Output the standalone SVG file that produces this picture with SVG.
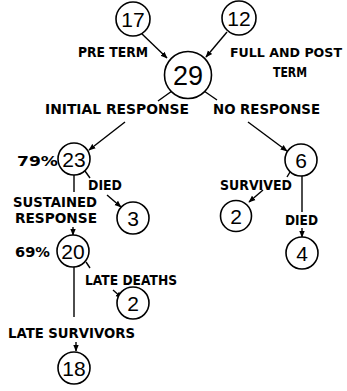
<svg xmlns="http://www.w3.org/2000/svg" width="347" height="391" viewBox="0 0 347 391">
<defs>
<marker id="ah" viewBox="0 0 10 10" refX="9" refY="5" markerWidth="7" markerHeight="7" orient="auto" markerUnits="userSpaceOnUse">
<path d="M0,1 L10,5 L0,9 Z" fill="#000"/>
</marker>
<style>
.c{fill:#fff;stroke:#000;stroke-width:1.6}
.n{font-family:"Liberation Sans",Arial,sans-serif;font-size:21px;fill:#000;text-anchor:middle}
.big{font-size:27px}
.l{font-family:"DejaVu Sans",Verdana,sans-serif;font-weight:bold;font-size:14px;fill:#000}
.e{fill:none;stroke:#000;stroke-width:1.4}
.a{fill:none;stroke:#000;stroke-width:1.4;marker-end:url(#ah)}
</style>
</defs>
<rect width="347" height="391" fill="#fff"/>
<g id="connectors">
<line class="a" x1="141" y1="33" x2="167" y2="58"/>
<line class="a" x1="227" y1="32" x2="206" y2="57"/>
<line class="e" x1="172" y1="91" x2="158" y2="101"/>
<line class="e" x1="204" y1="91" x2="217" y2="100"/>
<line class="a" x1="125" y1="122" x2="89" y2="150"/>
<line class="a" x1="248" y1="122" x2="287" y2="151"/>
<line class="e" x1="85" y1="171" x2="90" y2="178"/>
<line class="a" x1="107" y1="195" x2="121" y2="207"/>
<line class="e" x1="74" y1="175" x2="74" y2="192"/>
<line class="a" x1="73" y1="227" x2="73" y2="235"/>
<line class="e" x1="86" y1="262" x2="90" y2="268"/>
<line class="a" x1="113" y1="290" x2="122" y2="298"/>
<line class="e" x1="74" y1="267" x2="74" y2="317"/>
<line class="a" x1="76" y1="342" x2="76" y2="351"/>
<line class="e" x1="290" y1="172" x2="287" y2="177"/>
<line class="a" x1="263" y1="190" x2="249" y2="202"/>
<line class="e" x1="302" y1="176" x2="302" y2="212"/>
<line class="a" x1="302" y1="228" x2="302" y2="237"/>
</g>
<g id="n17"><circle class="c" cx="133" cy="19" r="17"/><text class="n" x="133" y="27">17</text></g>
<g id="n12"><circle class="c" cx="239" cy="18" r="17"/><text class="n" x="239" y="26">12</text></g>
<g id="n29"><circle class="c" cx="188" cy="75" r="23.5"/><text class="n big" x="188" y="85">29</text></g>
<g id="n23"><circle class="c" cx="74" cy="159" r="16"/><text class="n" x="74" y="167">23</text></g>
<g id="n6"><circle class="c" cx="301" cy="160" r="16"/><text class="n" x="301" y="168">6</text></g>
<g id="n3"><circle class="c" cx="133" cy="218" r="16"/><text class="n" x="133" y="226">3</text></g>
<g id="n2a"><circle class="c" cx="236" cy="216" r="15.5"/><text class="n" x="236" y="224">2</text></g>
<g id="n20"><circle class="c" cx="73" cy="251" r="16"/><text class="n" x="73" y="259">20</text></g>
<g id="n4"><circle class="c" cx="302" cy="253" r="16"/><text class="n" x="302" y="261">4</text></g>
<g id="n2b"><circle class="c" cx="133" cy="303" r="16"/><text class="n" x="133" y="311">2</text></g>
<g id="n18"><circle class="c" cx="74" cy="368" r="16"/><text class="n" x="74" y="376">18</text></g>
<g id="labels">
<text class="l" x="78" y="57" textLength="70" lengthAdjust="spacingAndGlyphs">PRE TERM</text>
<text class="l" x="230" y="57" style="font-size:12.6px" textLength="112" lengthAdjust="spacingAndGlyphs">FULL AND POST</text>
<text class="l" x="273" y="77" textLength="34" lengthAdjust="spacingAndGlyphs">TERM</text>
<text class="l" x="45" y="114" textLength="144" lengthAdjust="spacingAndGlyphs">INITIAL RESPONSE</text>
<text class="l" x="213" y="114" textLength="107" lengthAdjust="spacingAndGlyphs">NO RESPONSE</text>
<text class="l" x="17" y="166" textLength="41" lengthAdjust="spacingAndGlyphs">79%</text>
<text class="l" x="88" y="190" textLength="34" lengthAdjust="spacingAndGlyphs">DIED</text>
<text class="l" x="13" y="207" textLength="84" lengthAdjust="spacingAndGlyphs">SUSTAINED</text>
<text class="l" x="15" y="223" textLength="82" lengthAdjust="spacingAndGlyphs">RESPONSE</text>
<text class="l" x="220" y="190" textLength="72" lengthAdjust="spacingAndGlyphs">SURVIVED</text>
<text class="l" x="285" y="225" textLength="33" lengthAdjust="spacingAndGlyphs">DIED</text>
<text class="l" x="15" y="257" textLength="35" lengthAdjust="spacingAndGlyphs">69%</text>
<text class="l" x="85" y="285" textLength="92" lengthAdjust="spacingAndGlyphs">LATE DEATHS</text>
<text class="l" x="8" y="338" textLength="127" lengthAdjust="spacingAndGlyphs">LATE SURVIVORS</text>
</g>
</svg>
